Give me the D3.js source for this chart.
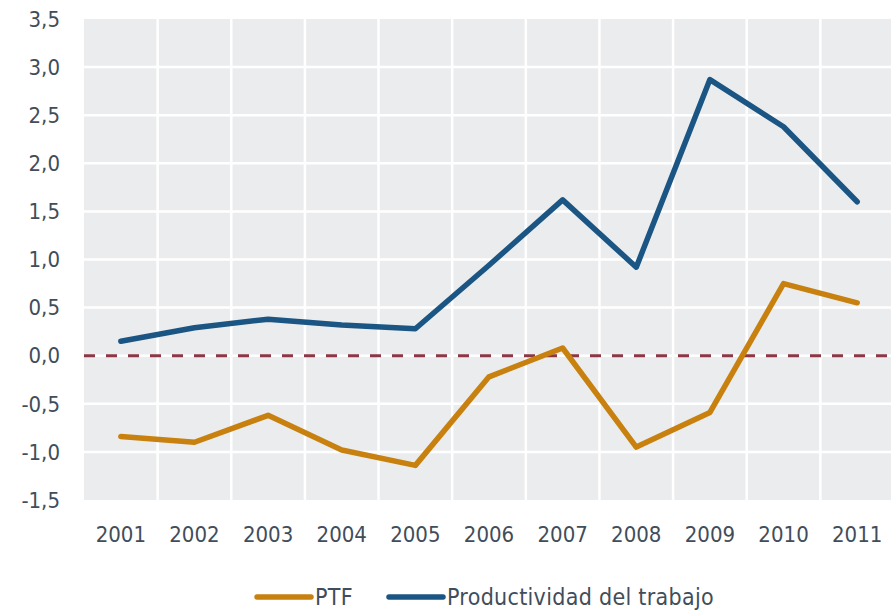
<!DOCTYPE html>
<html>
<head>
<meta charset="utf-8">
<script src="https://cdn.jsdelivr.net/npm/d3@7"></script>
<style>
  html, body { margin: 0; background: #fff; overflow: hidden; }
  svg { display: block; }
  text { font-family: "DejaVu Sans Condensed", "DejaVu Sans", sans-serif; fill: #414d5a; }
</style>
</head>
<body>
<div id="chart"></div>
<script>
// values
const years = ["2001","2002","2003","2004","2005","2006","2007","2008","2009","2010","2011"];
const ptf = [-0.84, -0.90, -0.62, -0.98, -1.14, -0.22, 0.08, -0.95, -0.59, 0.75, 0.55];
const productividad = [0.15, 0.29, 0.38, 0.32, 0.28, 0.94, 1.62, 0.92, 2.87, 2.38, 1.60];
const yTicks = [-1.5, -1.0, -0.5, 0.0, 0.5, 1.0, 1.5, 2.0, 2.5, 3.0, 3.5];
const seriesNames = ["PTF", "Productividad del trabajo"];
const seriesColors = ["#c8800e", "#1b5583"];

const width = 891, height = 610,
      margin = {top: 19, right: -3, bottom: 110, left: 84},
      innerWidth = width - margin.left - margin.right,
      innerHeight = height - margin.top - margin.bottom;

const svg = d3.select("#chart").append("svg")
    .attr("width", width)
    .attr("height", height)
    .style("overflow", "hidden");

const viz = svg.append("g")
    .attr("transform", `translate(${margin.left},${margin.top})`);

const x = d3.scaleBand()
    .domain(years)
    .range([0, innerWidth]);

const y = d3.scaleLinear()
    .domain([-1.5, 3.5])
    .range([innerHeight, 0]);

// plot background
viz.append("rect")
    .attr("width", innerWidth)
    .attr("height", innerHeight)
    .attr("fill", "#ebecee");

// white grid
viz.append("g").selectAll("line")
    .data(yTicks.slice(1, -1))
    .enter().append("line")
    .attr("x1", 0).attr("x2", innerWidth)
    .attr("y1", d => y(d)).attr("y2", d => y(d))
    .attr("stroke", "#fff").attr("stroke-width", 2.5);

viz.append("g").selectAll("line")
    .data(years.slice(1))
    .enter().append("line")
    .attr("x1", d => x(d)).attr("x2", d => x(d))
    .attr("y1", 0).attr("y2", innerHeight)
    .attr("stroke", "#fff").attr("stroke-width", 2.5);

// zero line
viz.append("line")
    .attr("x1", 0).attr("x2", innerWidth)
    .attr("y1", y(0)).attr("y2", y(0))
    .attr("stroke", "#8b3745")
    .attr("stroke-width", 3)
    .attr("stroke-dasharray", "11,11");

// y labels
const fmt = d => d3.format(".1f")(d).replace(".", ",").replace("−", "-");
viz.append("g").selectAll("text")
    .data(yTicks)
    .enter().append("text")
    .attr("x", -24)
    .attr("y", d => y(d))
    .attr("dy", "0.35em")
    .attr("text-anchor", "end")
    .style("font-size", "22px")
    .text(fmt);

// x labels
viz.append("g").selectAll("text")
    .data(years)
    .enter().append("text")
    .attr("x", d => x(d) + x.bandwidth() / 2)
    .attr("y", innerHeight + 42)
    .attr("text-anchor", "middle")
    .style("font-size", "22px")
    .text(d => d);

// lines
const line = d3.line()
    .x((d, i) => x(years[i]) + x.bandwidth() / 2)
    .y(d => y(d));

[ptf, productividad].forEach((s, i) => {
  viz.append("path")
      .datum(s)
      .attr("fill", "none")
      .attr("stroke", seriesColors[i])
      .attr("stroke-width", 5.5)
      .attr("stroke-linejoin", "round")
      .attr("stroke-linecap", "round")
      .attr("d", line);
});

// legend
const legendX = [257, 389];
const legend = svg.append("g");
seriesNames.forEach((name, i) => {
  legend.append("line")
      .attr("x1", legendX[i]).attr("x2", legendX[i] + 54)
      .attr("y1", 597).attr("y2", 597)
      .attr("stroke", seriesColors[i])
      .attr("stroke-width", 5.5)
      .attr("stroke-linecap", "round");
  legend.append("text")
      .attr("x", legendX[i] + 58)
      .attr("y", 605)
      .style("font-size", "23px")
      .style("letter-spacing", "0.3px")
      .text(name);
});
</script>
</body>
</html>
